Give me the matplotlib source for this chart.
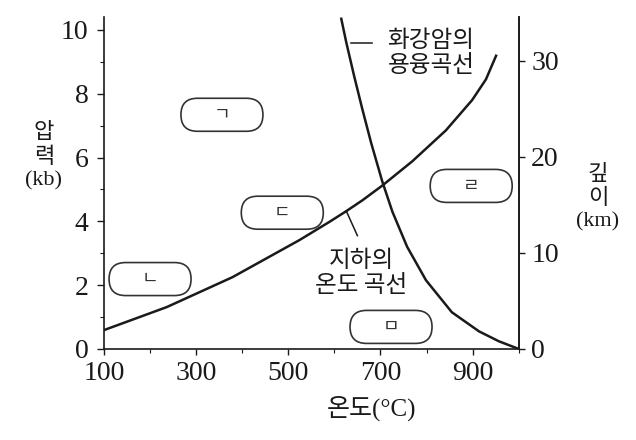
import numpy as np
import matplotlib
matplotlib.use('Agg')
import matplotlib.pyplot as plt
from matplotlib.patches import FancyBboxPatch
from matplotlib.transforms import ScaledTranslation
from matplotlib.ticker import MultipleLocator

# geotherm (temperature vs pressure)
geo_temp = [100, 236, 379, 524, 589, 626, 661, 704, 769, 842, 899, 929, 951]
geo_pres = [0.59, 1.31, 2.25, 3.41, 3.98, 4.32, 4.66, 5.12, 5.88, 6.85, 7.8, 8.45, 9.19]

# wet granite melting curve
melt_temp = [615, 626, 643, 661, 680, 704, 726, 758, 799, 855, 914, 957, 1000]
melt_pres = [10.35, 9.6, 8.55, 7.5, 6.45, 5.25, 4.3, 3.2, 2.15, 1.15, 0.55, 0.24, 0.0]

# region labels
region_labels = ['ㄱ', 'ㄴ', 'ㄷ', 'ㄹ', 'ㅁ']
region_temp = [356, 200, 487, 897, 723]
region_pres = [7.34, 2.19, 4.27, 5.11, 0.69]

x_ticks = [100, 300, 500, 700, 900]
y_ticks = [0, 2, 4, 6, 8, 10]
depth_ticks = [0, 10, 20, 30]
km_per_kb = 3.32

kr = ['Liberation Serif', 'Noto Sans CJK KR', 'DejaVu Sans']
kr_sans = ['Noto Sans CJK KR', 'DejaVu Sans']
serif = 'Liberation Serif'
ink = '#1a1a1a'

fig = plt.figure(figsize=(6.36, 4.4), dpi=100)
ax = fig.add_axes([0.1635, 0.207, 0.652, 0.754])

ax.plot(geo_temp, geo_pres, color=ink, lw=1.8, solid_joinstyle='round')
ax.plot(melt_temp, melt_pres, color=ink, lw=1.8, solid_joinstyle='round')

ax.set_xlim(100, 1000)
ax.set_ylim(0, 10.4)
ax.spines['top'].set_visible(False)
for s in ['left', 'bottom', 'right']:
    ax.spines[s].set_linewidth(1.2)
    ax.spines[s].set_color(ink)

ax.set_xticks(x_ticks)
ax.xaxis.set_minor_locator(MultipleLocator(100))
ax.set_yticks(y_ticks)
ax.yaxis.set_minor_locator(MultipleLocator(1))
ax.tick_params(axis='x', which='major', direction='out', length=4, width=1,
               labelsize=20, pad=5, colors=ink)
ax.tick_params(axis='y', which='major', direction='out', length=5, width=1,
               labelsize=20, pad=6, colors=ink)
ax.tick_params(axis='both', which='minor', direction='out', length=3, width=0.8,
               colors=ink)
for lab in ax.get_xticklabels() + ax.get_yticklabels():
    lab.set_family(serif)

ax2 = ax.twinx()
ax2.set_ylim(0, 10.4 * km_per_kb)
ax2.set_yticks(depth_ticks)
ax2.tick_params(axis='y', direction='out', length=4, width=1, labelsize=20,
                pad=5, colors=ink)
for s in ['top', 'left', 'bottom']:
    ax2.spines[s].set_visible(False)
ax2.spines['right'].set_linewidth(1.2)
ax2.spines['right'].set_color(ink)
for lab in ax2.get_yticklabels():
    lab.set_family(serif)

# rounded boxes for regions
for lab, t, p in zip(region_labels, region_temp, region_pres):
    tr = fig.dpi_scale_trans + ScaledTranslation(t, p, ax.transData)
    box = FancyBboxPatch((-0.41, -0.165), 0.82, 0.33,
                         boxstyle='round,pad=0,rounding_size=0.165',
                         transform=tr, facecolor='white', edgecolor='#333333',
                         lw=1.2, clip_on=False)
    ax.add_patch(box)
    ax.text(t, p, lab, ha='center', va='center', fontsize=13, family=kr_sans,
            color='#333333')

# curve labels
ax.text(810, 9.28, '화강암의\n용융곡선', ha='center', va='center', fontsize=17,
        family=kr_sans, linespacing=1.15, color=ink)
ax.plot([636, 682], [9.6, 9.6], color=ink, lw=1.1)

ax.text(658, 2.39, '지하의\n온도 곡선', ha='center', va='center', fontsize=17,
        family=kr_sans, linespacing=1.1, color=ink)
ax.plot([626, 650], [4.32, 3.55], color=ink, lw=1.1)

# axis titles
fig.text(44 / 636, 1 - 157 / 440, '압\n력\n(kb)', ha='center', va='center',
         fontsize=16, family=kr, linespacing=1.25, color=ink)
fig.text(598 / 636, 1 - 198 / 440, '깊\n이\n(km)', ha='center', va='center',
         fontsize=16, family=kr, linespacing=1.25, color=ink)
fig.text(372 / 636, 1 - 408 / 440, '온도(°C)', ha='center', va='center',
         fontsize=18, family=kr, color=ink)

fig.savefig('out.png', dpi=100)
